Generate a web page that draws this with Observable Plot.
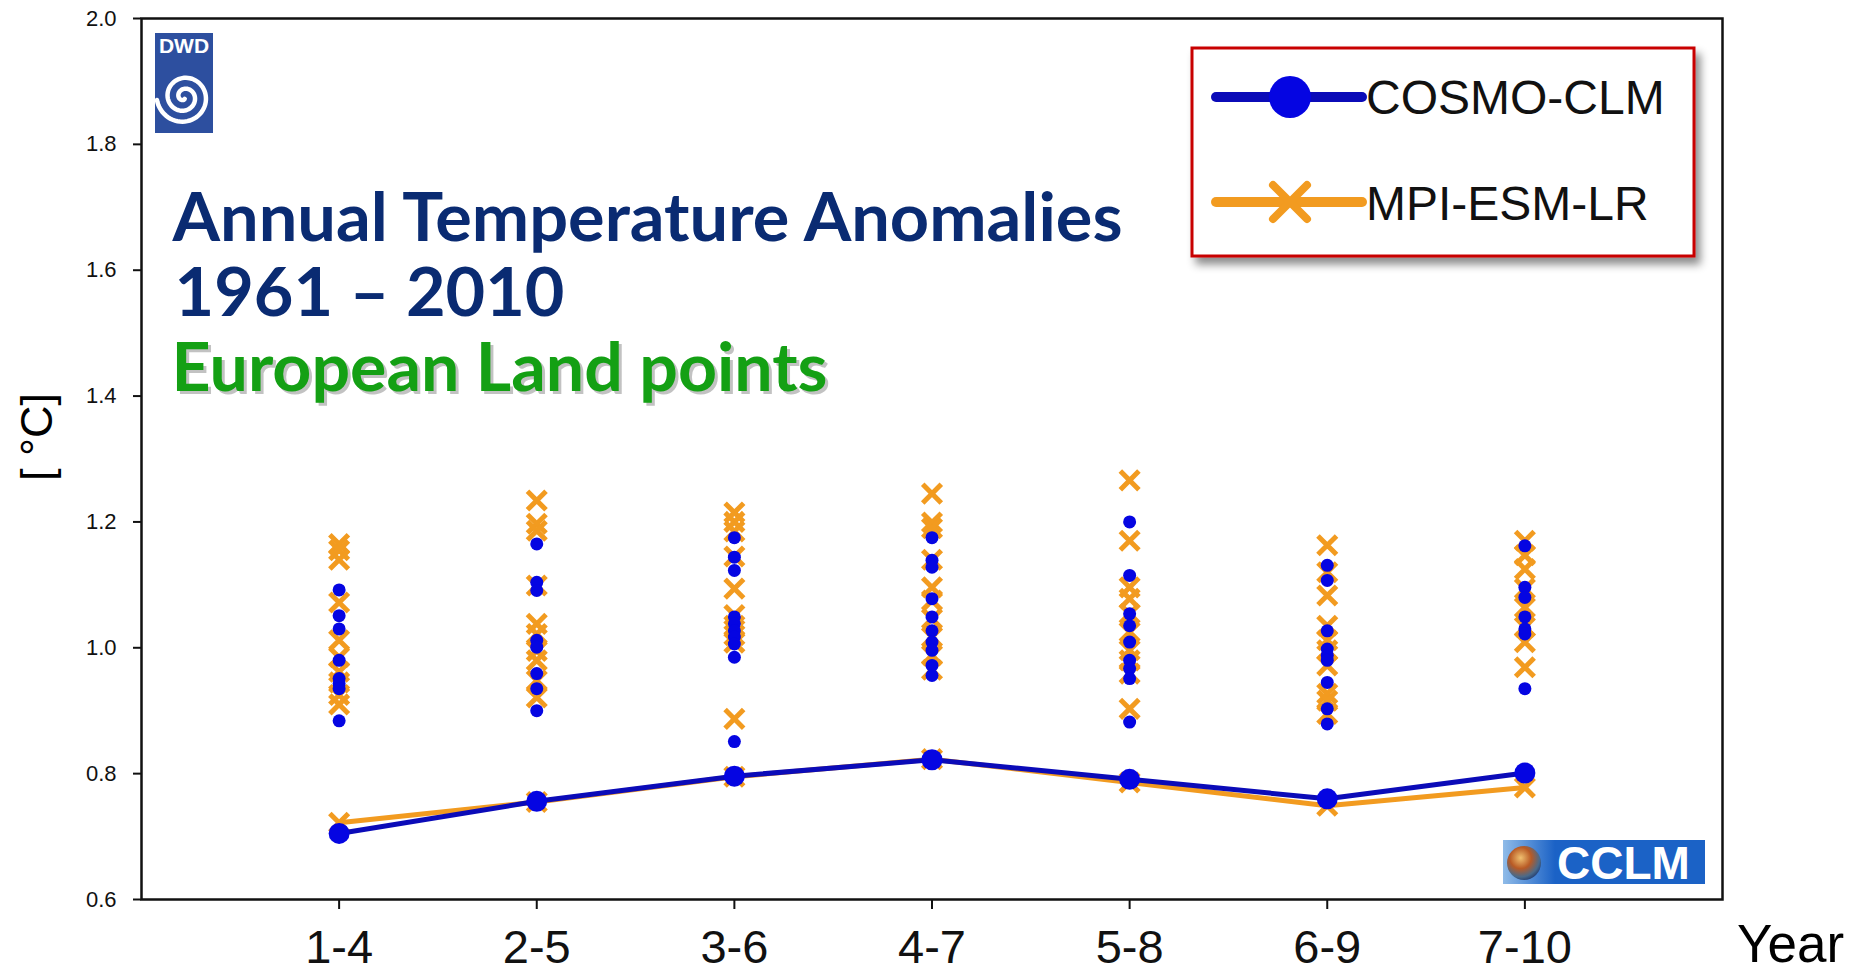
<!DOCTYPE html>
<html>
<head>
<meta charset="utf-8">
<script src="https://cdn.jsdelivr.net/npm/d3@7"></script>
<script src="https://cdn.jsdelivr.net/npm/@observablehq/plot@0.6"></script>
<style>
  html, body { margin: 0; padding: 0; background: #fff; }
  #wrap { position: relative; width: 1858px; height: 974px; overflow: hidden; }
  #overlay { position: absolute; left: 0; top: 0; pointer-events: none; }
</style>
</head>
<body>
<div id="wrap"></div>
<script>
// ---------- data ----------
const periods = ["1-4", "2-5", "3-6", "4-7", "5-8", "6-9", "7-10"];
const yTicks = [0.6, 0.8, 1.0, 1.2, 1.4, 1.6, 1.8, 2.0];
const seriesNames = ["COSMO-CLM", "MPI-ESM-LR"];
const cosmoMean = [0.705, 0.756, 0.796, 0.822, 0.791, 0.760, 0.801];
const mpiMean   = [0.722, 0.755, 0.795, 0.823, 0.786, 0.749, 0.778];
const cosmoMembers = [
  [1.092, 1.051, 1.030, 0.980, 0.951, 0.943, 0.935, 0.884],
  [1.165, 1.104, 1.091, 1.012, 1.001, 0.959, 0.935, 0.900],
  [1.175, 1.144, 1.123, 1.049, 1.038, 1.027, 1.017, 1.006, 0.985, 0.851],
  [1.175, 1.139, 1.128, 1.078, 1.049, 1.027, 1.009, 0.996, 0.972, 0.956],
  [1.200, 1.115, 1.054, 1.035, 1.009, 0.980, 0.967, 0.951, 0.882],
  [1.131, 1.107, 1.027, 0.998, 0.988, 0.980, 0.945, 0.903, 0.879],
  [1.162, 1.096, 1.080, 1.049, 1.030, 1.022, 0.935]
];
const mpiMembers = [
  [1.165, 1.155, 1.140, 1.072, 1.012, 0.985, 0.962, 0.945, 0.925, 0.910],
  [1.234, 1.197, 1.186, 1.099, 1.038, 1.022, 0.995, 0.980, 0.948, 0.921],
  [1.215, 1.200, 1.185, 1.145, 1.094, 1.052, 1.035, 1.020, 1.008, 0.887],
  [1.245, 1.199, 1.190, 1.140, 1.096, 1.075, 1.046, 1.017, 0.988, 0.965],
  [1.266, 1.170, 1.096, 1.078, 1.054, 1.025, 0.996, 0.980, 0.959, 0.903],
  [1.163, 1.120, 1.083, 1.035, 1.012, 0.996, 0.972, 0.927, 0.916, 0.895],
  [1.170, 1.147, 1.125, 1.094, 1.064, 1.033, 1.009, 0.969]
];
const titleLines = ["Annual Temperature Anomalies", "1961 – 2010", "European Land points"];
const yLabel = "[ °C]";
const xLabel = "Year";

// ---------- styles ----------
const BLUE = "#0505e2", BLUE_LINE = "#0b0bb8", ORANGE = "#f29b20";
const NAVY = "#0a2b72", GREEN = "#14a014";

// ---------- tables ----------
const meanRows = (arr) => periods.map((p, i) => ({period: p, value: arr[i]}));
const memberRows = (arr) => periods.flatMap((p, i) => arr[i].map(v => ({period: p, value: v})));
const cosmoMeanRows = meanRows(cosmoMean), mpiMeanRows = meanRows(mpiMean);
const cosmoRows = memberRows(cosmoMembers), mpiRows = memberRows(mpiMembers);

const titleFont = "Lato, 'Open Sans', sans-serif";

const chart = Plot.plot({
  width: 1858, height: 974,
  marginLeft: 141, marginRight: 136, marginTop: 18, marginBottom: 75,
  style: {fontFamily: "'Liberation Sans', Arial, sans-serif", background: "white", color: "#111", overflow: "visible"},
  x: {type: "point", domain: periods, padding: 1, round: false, label: null},
  y: {domain: [0.6, 2.0], label: null},
  marks: [
    Plot.axisY({ticks: yTicks, tickFormat: d3.format(".1f"), tickSize: 8, tickPadding: 17, fontSize: 22, strokeWidth: 2, label: null}),
    Plot.axisX({tickSize: 10, tickPadding: 20, fontSize: 47, strokeWidth: 2, label: null}),
    // titles
    Plot.text([titleLines[0]], {text: d => d, frameAnchor: "top-left", textAnchor: "start", lineAnchor: "bottom", dx: 31, dy: 222, fontSize: 66, fontWeight: "bold", fontFamily: titleFont, fill: NAVY}),
    Plot.text([titleLines[1]], {text: d => d, frameAnchor: "top-left", textAnchor: "start", lineAnchor: "bottom", dx: 33, dy: 297, fontSize: 66, fontWeight: "bold", fontFamily: titleFont, fill: NAVY}),
    Plot.text([titleLines[2]], {text: d => d, frameAnchor: "top-left", textAnchor: "start", lineAnchor: "bottom", dx: 33, dy: 375, fontSize: 66, fontWeight: "bold", fontFamily: titleFont, fill: "#777", fillOpacity: 0.45}),
    Plot.text([titleLines[2]], {text: d => d, frameAnchor: "top-left", textAnchor: "start", lineAnchor: "bottom", dx: 30, dy: 372, fontSize: 66, fontWeight: "bold", fontFamily: titleFont, fill: GREEN}),
    // axis labels
    Plot.text([yLabel], {text: d => d, frameAnchor: "left", rotate: -90, dx: -104, dy: -22, fontSize: 45, textAnchor: "middle", lineAnchor: "middle", fill: "#000"}),
    Plot.text([xLabel], {text: d => d, frameAnchor: "bottom-right", dx: 68, dy: 62, lineAnchor: "bottom", textAnchor: "middle", fontSize: 53, fill: "#000"}),
    // ensemble members
    Plot.dot(mpiRows, {x: "period", y: "value", symbol: "times", r: 8.5, stroke: ORANGE, strokeWidth: 5}),
    Plot.dot(cosmoRows, {x: "period", y: "value", r: 6.5, fill: BLUE}),
    // ensemble means
    Plot.line(mpiMeanRows, {x: "period", y: "value", stroke: ORANGE, strokeWidth: 5}),
    Plot.dot(mpiMeanRows, {x: "period", y: "value", symbol: "times", r: 8.5, stroke: ORANGE, strokeWidth: 5}),
    Plot.line(cosmoMeanRows, {x: "period", y: "value", stroke: BLUE_LINE, strokeWidth: 5}),
    Plot.dot(cosmoMeanRows, {x: "period", y: "value", r: 10.5, fill: BLUE}),
    Plot.frame({stroke: "#111", strokeWidth: 2.5})
  ]
});

// fit title widths to the reference
const titleWidths = [950, 390, 656];
chart.querySelectorAll("text").forEach(t => {
  const i = titleLines.indexOf(t.textContent);
  if (i >= 0) { t.setAttribute("textLength", titleWidths[i]); t.setAttribute("lengthAdjust", "spacingAndGlyphs"); }
});

const wrap = document.getElementById("wrap");
wrap.appendChild(chart);

// ---------- overlay: legend and logos ----------
const ov = d3.select(wrap).append("svg").attr("id", "overlay").attr("width", 1858).attr("height", 974);
const defs = ov.append("defs");
const f = defs.append("filter").attr("id", "shadow").attr("x", "-10%").attr("y", "-10%").attr("width", "130%").attr("height", "140%");
f.append("feDropShadow").attr("dx", 5).attr("dy", 7).attr("stdDeviation", 4).attr("flood-color", "#000").attr("flood-opacity", 0.45);
const sky = defs.append("linearGradient").attr("id", "sky").attr("x1", 0).attr("x2", 1);
sky.append("stop").attr("offset", 0).attr("stop-color", "#8fbbe8");
sky.append("stop").attr("offset", 1).attr("stop-color", "#1b62c6");
const apple = defs.append("radialGradient").attr("id", "apple").attr("cx", 0.4).attr("cy", 0.35).attr("r", 0.7);
apple.append("stop").attr("offset", 0).attr("stop-color", "#f0c070");
apple.append("stop").attr("offset", 0.45).attr("stop-color", "#b85a25");
apple.append("stop").attr("offset", 0.8).attr("stop-color", "#4a6a8a");
apple.append("stop").attr("offset", 1).attr("stop-color", "#203a70");

// legend
const lg = ov.append("g");
lg.append("rect").attr("x", 1192).attr("y", 48).attr("width", 502).attr("height", 208)
  .attr("fill", "#fff").attr("stroke", "#c80000").attr("stroke-width", 3).attr("filter", "url(#shadow)");
lg.append("line").attr("x1", 1216).attr("x2", 1362).attr("y1", 97).attr("y2", 97)
  .attr("stroke", BLUE_LINE).attr("stroke-width", 10).attr("stroke-linecap", "round");
lg.append("circle").attr("cx", 1290).attr("cy", 97).attr("r", 21).attr("fill", BLUE);
lg.append("line").attr("x1", 1216).attr("x2", 1362).attr("y1", 202).attr("y2", 202)
  .attr("stroke", ORANGE).attr("stroke-width", 10).attr("stroke-linecap", "round");
lg.append("path").attr("d", "M1273,185L1307,219M1273,219L1307,185")
  .attr("stroke", ORANGE).attr("stroke-width", 8).attr("stroke-linecap", "round");
lg.selectAll("text.lab").data(seriesNames).join("text").attr("class", "lab")
  .attr("x", 1366).attr("y", (d, i) => i === 0 ? 114 : 220)
  .attr("font-family", "'Liberation Sans', Arial, sans-serif").attr("font-size", 48).attr("fill", "#111")
  .text(d => d);

// DWD logo
const dwd = ov.append("g");
dwd.append("rect").attr("x", 155).attr("y", 33).attr("width", 58).attr("height", 100).attr("fill", "#2d4f9f");
dwd.append("text").attr("x", 184).attr("y", 53).attr("text-anchor", "middle")
  .attr("font-family", "'Liberation Sans', Arial, sans-serif").attr("font-weight", "bold").attr("font-size", 21).attr("fill", "#fff").text("DWD");
const spiral = d3.range(0, 4.6 * Math.PI, 0.1).map(t => [184 + (2 + 1.75 * t) * Math.cos(t + 1.2), 97 + (2 + 1.75 * t) * Math.sin(t + 1.2)]);
dwd.append("path").attr("d", d3.line()(spiral)).attr("fill", "none").attr("stroke", "#fff").attr("stroke-width", 4.5).attr("stroke-linecap", "round");

// CCLM logo
const cc = ov.append("g");
cc.append("rect").attr("x", 1503).attr("y", 840).attr("width", 202).attr("height", 44).attr("fill", "#1b62c6");
cc.append("rect").attr("x", 1503).attr("y", 840).attr("width", 52).attr("height", 44).attr("fill", "url(#sky)");
cc.append("circle").attr("cx", 1524).attr("cy", 863).attr("r", 17).attr("fill", "url(#apple)");
cc.append("text").attr("x", 1557).attr("y", 879)
  .attr("font-family", "'Liberation Sans', Arial, sans-serif").attr("font-weight", "bold").attr("font-size", 46).attr("fill", "#fff").text("CCLM");
</script>
</body>
</html>
